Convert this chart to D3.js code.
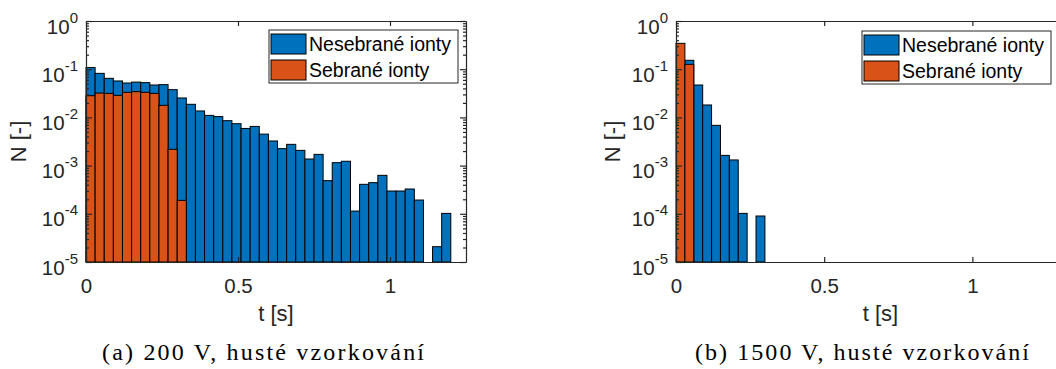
<!DOCTYPE html>
<html lang="cs">
<head>
<meta charset="UTF-8">
<title>Histogramy doby letu iontů</title>
<style>
  body { margin: 0; background: #fff; }
  svg { display: block; }
  .axis path, .axis line { stroke: #262626; stroke-width: 1.2px; }
  .axis text { font-family: "Liberation Sans", Arial, sans-serif; font-size: 20.5px; fill: #262626; }
  .title { font-family: "Liberation Sans", Arial, sans-serif; font-size: 22px; fill: #262626; }
  .legend text { font-family: "Liberation Sans", Arial, sans-serif; font-size: 19.5px; fill: #000; }
  .caption { font-family: "Liberation Serif", "DejaVu Serif", serif; font-size: 24px; fill: #000; }
</style>
</head>
<body>
<script src="https://d3js.org/d3.v7.min.js"></script>
<script>

// sirka binu histogramu [s]
const binWidth = 0.03;

// (a) 200 V
const binStartsA = [0, 0.03, 0.06, 0.09, 0.12, 0.15, 0.18, 0.21, 0.24, 0.27,
                    0.30, 0.33, 0.36, 0.39, 0.42, 0.45, 0.48, 0.51, 0.54, 0.57,
                    0.60, 0.63, 0.66, 0.69, 0.72, 0.75, 0.78, 0.81, 0.84, 0.87,
                    0.90, 0.93, 0.96, 0.99, 1.02, 1.05, 1.08, 1.11, 1.14, 1.17];
const nesebraneA = [0.108, 0.082, 0.0646, 0.057, 0.0517, 0.054, 0.0526, 0.047, 0.0478, 0.0376,
                    0.0253, 0.0187, 0.0136, 0.011, 0.0104, 0.00855, 0.0074, 0.0059, 0.0065, 0.0045,
                    0.00324, 0.00225, 0.00276, 0.00207, 0.00137, 0.00171, 0.000487, 0.00115, 0.00123, 0.000114,
                    0.000409, 0.000443, 0.000628, 0.000297, 0.000297, 0.000327, 0.000193, 0, 0.0000208, 0.000102];
const sebraneA = [0.0282, 0.032, 0.0315, 0.0287, 0.0331, 0.0342, 0.0331, 0.0315, 0.0178, 0.00218, 0.00019];

// (b) 1500 V
const binStartsB = [0, 0.03, 0.06, 0.09, 0.12, 0.15, 0.18, 0.21, 0.24, 0.27];
const nesebraneB = [0, 0.153, 0.047, 0.0181, 0.00684, 0.00163, 0.00131, 0.000102, 0, 0.00009];
const sebraneB = [0.344, 0.126];

const legendLabels = ["Nesebrané ionty", "Sebrané ionty"];
const yTickExps = [0, -1, -2, -3, -4, -5];
const xTickValues = [0, 0.5, 1];
const xTickLabels = ["0", "0.5", "1"];
const captions = ["(a) 200 V, husté vzorkování", "(b) 1500 V, husté vzorkování"];

const colors = ["#0072BD", "#D95319"];

const svg = d3.select("body").append("svg")
  .attr("width", 1056)
  .attr("height", 369);

function drawPanel(p) {
  const g = svg.append("g");

  const x = d3.scaleLinear().domain([0, p.xMax]).range([p.left, p.right]);
  const y = d3.scaleLog().domain([1e-5, 1]).range([p.bottom, p.top]);

  // sloupce: nejdriv nesebrane, pres ne sebrane
  [p.blue, p.orange].forEach((vals, s) => {
    const rows = vals.map((v, i) => ({ t: p.bins[i], v: v })).filter(d => d.v > 0);
    g.append("g").selectAll("rect")
      .data(rows)
      .join("rect")
      .attr("x", d => x(d.t))
      .attr("width", d => x(d.t + binWidth) - x(d.t))
      .attr("y", d => y(d.v))
      .attr("height", d => y(1e-5) - y(d.v))
      .attr("fill", colors[s])
      .attr("stroke", "#000")
      .attr("stroke-width", 1);
  });

  const majors = yTickExps.map(e => Math.pow(10, e));
  const minors = [];
  yTickExps.slice(1).forEach(e => {
    for (let k = 2; k <= 9; k++) minors.push(k * Math.pow(10, e));
  });

  // minor ticky (vlevo i vpravo)
  g.append("g").attr("class", "axis")
    .attr("transform", `translate(${p.left},0)`)
    .call(d3.axisLeft(y).tickValues(minors).tickSize(-3).tickFormat(""))
    .call(a => a.select(".domain").remove());
  g.append("g").attr("class", "axis")
    .attr("transform", `translate(${p.right},0)`)
    .call(d3.axisRight(y).tickValues(minors).tickSize(-3).tickFormat(""))
    .call(a => a.select(".domain").remove());

  // hlavni osa y
  const yAxis = g.append("g").attr("class", "axis")
    .attr("transform", `translate(${p.left},0)`)
    .call(d3.axisLeft(y).tickValues(majors).tickSizeInner(-6).tickSizeOuter(0));
  yAxis.selectAll(".tick text")
    .attr("x", -8)
    .attr("dy", null)
    .attr("y", 12)
    .attr("text-anchor", "end")
    .text(null)
    .each(function(d) {
      const t = d3.select(this);
      t.append("tspan").text("10");
      t.append("tspan").attr("dy", -11).style("font-size", "15px").text(Math.round(Math.log10(d)));
    });

  g.append("g").attr("class", "axis")
    .attr("transform", `translate(${p.right},0)`)
    .call(d3.axisRight(y).tickValues(majors).tickSizeInner(-6).tickSizeOuter(0).tickFormat(""));

  // osa x
  g.append("g").attr("class", "axis")
    .attr("transform", `translate(0,${p.bottom})`)
    .call(d3.axisBottom(x).tickValues(xTickValues).tickSizeInner(-5).tickSizeOuter(0)
      .tickFormat((d, i) => xTickLabels[i]))
    .call(a => a.selectAll(".tick text").attr("dy", null).attr("y", 31));

  g.append("g").attr("class", "axis")
    .attr("transform", `translate(0,${p.top})`)
    .call(d3.axisTop(x).tickValues(xTickValues).tickSizeInner(-5).tickSizeOuter(0).tickFormat(""));

  // popisky os
  g.append("text").attr("class", "title")
    .attr("x", (p.left + Math.min(p.right, 1086)) / 2)
    .attr("y", 321)
    .attr("text-anchor", "middle")
    .text("t [s]");

  g.append("text").attr("class", "title")
    .attr("transform", `translate(${p.yLabelX},${(p.top + p.bottom) / 2}) rotate(-90)`)
    .attr("text-anchor", "middle")
    .text("N [-]");

  // legenda
  const lg = g.append("g").attr("class", "legend")
    .attr("transform", `translate(${p.legendX},${p.legendY})`);
  lg.append("rect")
    .attr("width", 189).attr("height", 53)
    .attr("fill", "#fff").attr("stroke", "#262626").attr("stroke-width", 1);
  legendLabels.forEach((lab, i) => {
    lg.append("rect")
      .attr("x", 2).attr("y", 4 + i * 26)
      .attr("width", 35).attr("height", 20)
      .attr("fill", colors[i]).attr("stroke", "#000").attr("stroke-width", 1);
    lg.append("text")
      .attr("x", 40).attr("y", 21 + i * 26)
      .text(lab);
  });

  // titulek podobrazku
  g.append("text").attr("class", "caption")
    .attr("x", p.captionX)
    .attr("y", 360)
    .attr("text-anchor", "middle")
    .attr("textLength", p.captionW)
    .attr("lengthAdjust", "spacing")
    .text(p.caption);
}

drawPanel({
  left: 86, right: 466, top: 21, bottom: 262, xMax: 1.25,
  bins: binStartsA, blue: nesebraneA, orange: sebraneA,
  legendX: 269, legendY: 30, yLabelX: 26,
  caption: captions[0], captionX: 263, captionW: 322
});

drawPanel({
  left: 676, right: 1085, top: 21, bottom: 262, xMax: 1.38,
  bins: binStartsB, blue: nesebraneB, orange: sebraneB,
  legendX: 862, legendY: 31, yLabelX: 620,
  caption: captions[1], captionX: 862, captionW: 334
});

</script>
</body>
</html>
